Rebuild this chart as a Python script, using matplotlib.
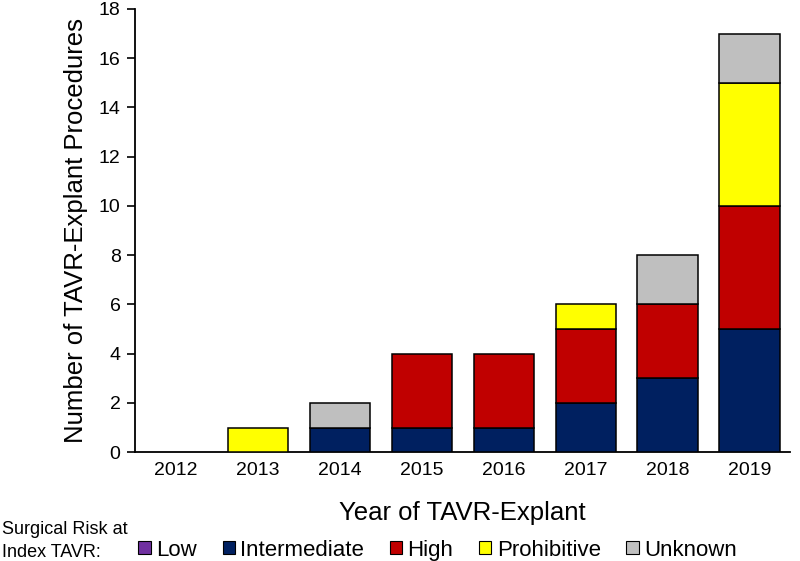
import numpy as np
import matplotlib.pyplot as plt
from matplotlib.patches import Patch

plt.rcParams['font.family'] = ['Liberation Sans', 'DejaVu Sans']

years = ['2012', '2013', '2014', '2015', '2016', '2017', '2018', '2019']
low = [0, 0, 0, 0, 0, 0, 0, 0]
intermediate = [0, 0, 1, 1, 1, 2, 3, 5]
high = [0, 0, 0, 3, 3, 3, 3, 5]
prohibitive = [0, 1, 0, 0, 0, 1, 0, 5]
unknown = [0, 0, 1, 0, 0, 0, 2, 2]

series = [('Low', low, '#7030A0'),
          ('Intermediate', intermediate, '#002060'),
          ('High', high, '#C00000'),
          ('Prohibitive', prohibitive, '#FFFF00'),
          ('Unknown', unknown, '#BFBFBF')]

fig = plt.figure(figsize=(8, 5.61), dpi=100)
ax = fig.add_axes([0.169, 0.194, 0.819, 0.79])

x = np.arange(len(years))
bottom = np.zeros(len(years))
for name, vals, col in series:
    vals = np.array(vals, dtype=float)
    mask = vals > 0
    ax.bar(x[mask], vals[mask], bottom=bottom[mask], width=0.735, color=col,
           edgecolor='black', linewidth=1.1, zorder=3)
    bottom += vals

ax.set_xlim(-0.5, len(years) - 0.5)
ax.set_ylim(0, 18)
ax.set_yticks(range(0, 19, 2))
ax.set_xticks(x)
ax.set_xticklabels(years)
ax.tick_params(axis='y', direction='out', length=5.5, width=1.2, labelsize=14, pad=5)
ax.tick_params(axis='x', length=0, labelsize=14, pad=7)
for s in ['top', 'right']:
    ax.spines[s].set_visible(False)
for s in ['left', 'bottom']:
    ax.spines[s].set_linewidth(1.3)

ax.set_ylabel('Number of TAVR-Explant Procedures', fontsize=18.5, labelpad=8)
ax.set_xlabel('Year of TAVR-Explant', fontsize=18.5, labelpad=16)

handles = [Patch(facecolor=col, edgecolor='black', linewidth=0.8, label=name)
           for name, vals, col in series]
fig.text(0.002, 0.0, 'Surgical Risk at\nIndex TAVR:', fontsize=13, va='bottom',
         ha='left', linespacing=1.5)
fig.legend(handles=handles, loc='lower left', bbox_to_anchor=(0.162, -0.015),
           ncol=5, frameon=False, fontsize=16, handlelength=0.55, handleheight=0.55,
           handletextpad=0.25, columnspacing=1.15, borderaxespad=0)

fig.savefig('out.png', dpi=100)
